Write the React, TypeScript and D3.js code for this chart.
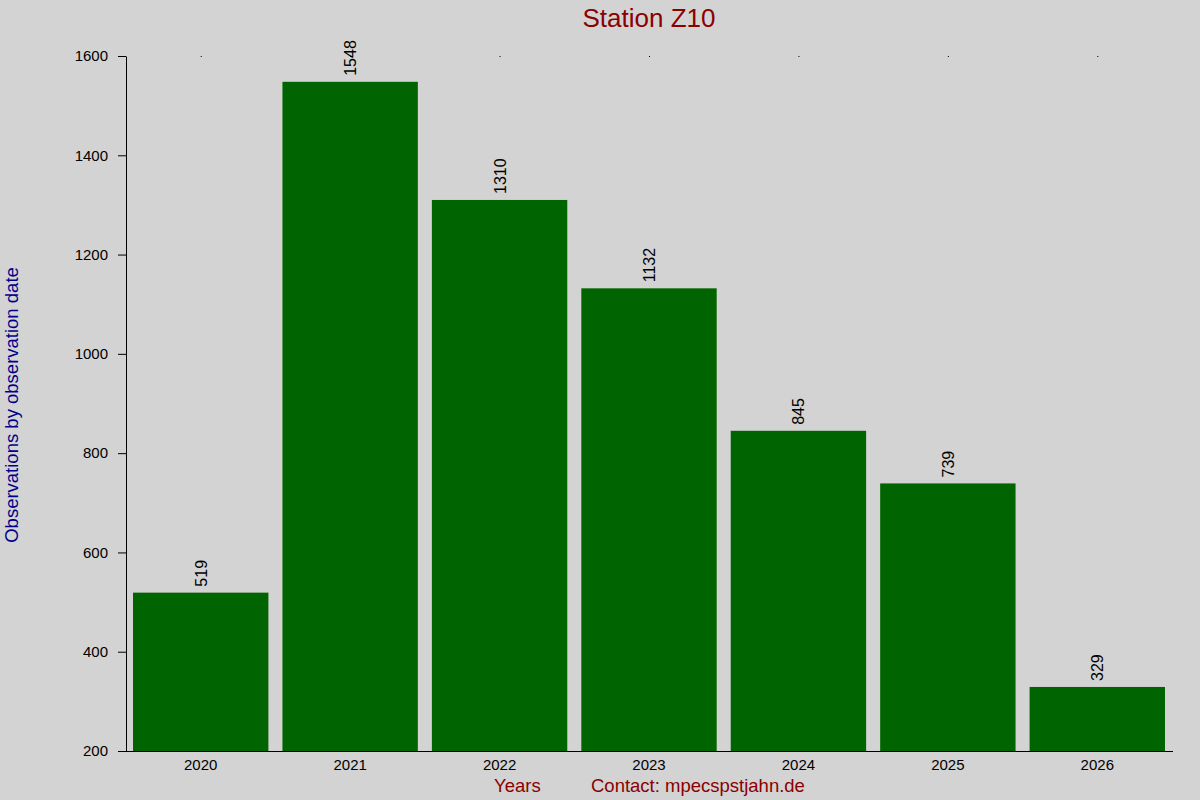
import React, { useEffect, useRef } from 'react';
import * as d3 from 'd3';

const years = ['2020', '2021', '2022', '2023', '2024', '2025', '2026'];
const counts = [519, 1548, 1310, 1132, 845, 739, 329];
const yTicks = [200, 400, 600, 800, 1000, 1200, 1400, 1600];

export default () => {
    const svgRef = useRef<SVGSVGElement>(null);
    const width = 1200;
    const height = 800;

    useEffect(() => {
        const svg = d3.select(svgRef.current);
        svg.selectAll('*').remove();

        const margin = { top: 56, right: 28, bottom: 49, left: 126 };
        const innerW = width - margin.left - margin.right;
        const innerH = height - margin.top - margin.bottom;
        const font = 'Liberation Sans, Arial, sans-serif';

        svg.append('rect').attr('width', width).attr('height', height).attr('fill', '#d3d3d3');

        const g = svg.append('g').attr('transform', `translate(${margin.left},${margin.top})`);

        const x = d3.scaleBand().domain(years).range([0, innerW]).paddingInner(0.094).paddingOuter(0.047);
        const y = d3.scaleLinear().domain([200, 1600]).range([innerH, 0]);

        // bars
        g.selectAll('rect.bar')
            .data(counts)
            .enter()
            .append('rect')
            .attr('class', 'bar')
            .attr('x', (_, i) => x(years[i])!)
            .attr('y', d => y(d))
            .attr('width', x.bandwidth())
            .attr('height', d => innerH - y(d))
            .attr('fill', '#006400');

        // value labels
        g.selectAll('text.val')
            .data(counts)
            .enter()
            .append('text')
            .attr('class', 'val')
            .attr('transform', (d, i) => `translate(${x(years[i])! + x.bandwidth() / 2 + 6},${y(d) - 6}) rotate(-90)`)
            .attr('font-family', font)
            .attr('font-size', 16)
            .attr('fill', '#000')
            .text(d => d);

        // tiny top marks
        g.selectAll('rect.dot')
            .data(years)
            .enter()
            .append('rect')
            .attr('class', 'dot')
            .attr('x', d => x(d)! + x.bandwidth() / 2)
            .attr('y', 0)
            .attr('width', 1)
            .attr('height', 1)
            .attr('fill', '#000');

        // y axis
        const yAxis = g.append('g')
            .call(d3.axisLeft(y).tickValues(yTicks).tickSize(8).tickSizeOuter(0).tickFormat(d3.format('d')));
        yAxis.select('.domain').attr('stroke', '#000');
        yAxis.selectAll('text').attr('font-family', font).attr('font-size', 15).attr('fill', '#000').attr('x', -18);

        // x axis
        const xAxis = g.append('g')
            .attr('transform', `translate(0,${innerH})`)
            .call(d3.axisBottom(x).tickSize(0).tickSizeOuter(0));
        xAxis.select('.domain').attr('d', `M-8,0.5H${innerW + 1}`).attr('stroke', '#000');
        xAxis.selectAll('text').attr('font-family', font).attr('font-size', 15).attr('fill', '#000').attr('dy', '1.05em');

        // title
        svg.append('text')
            .attr('x', margin.left + innerW / 2)
            .attr('y', 27)
            .attr('text-anchor', 'middle')
            .attr('font-family', font)
            .attr('font-size', 26)
            .attr('fill', '#8b0000')
            .text('Station Z10');

        // x labels
        svg.append('text')
            .attr('x', 494)
            .attr('y', 792)
            .attr('font-family', font)
            .attr('font-size', 18.5)
            .attr('fill', '#8b0000')
            .text('Years');
        svg.append('text')
            .attr('x', 591)
            .attr('y', 792)
            .attr('font-family', font)
            .attr('font-size', 18.5)
            .attr('fill', '#8b0000')
            .text('Contact: mpecspstjahn.de');

        // y label
        svg.append('text')
            .attr('transform', `translate(18,${405}) rotate(-90)`)
            .attr('text-anchor', 'middle')
            .attr('font-family', font)
            .attr('font-size', 18.5)
            .attr('fill', '#00008b')
            .text('Observations by observation date');
    }, []);

    return (
        <svg ref={svgRef} width={width} height={height} style={{ position: 'absolute', left: 0, top: 0 }}></svg>
    );
};
